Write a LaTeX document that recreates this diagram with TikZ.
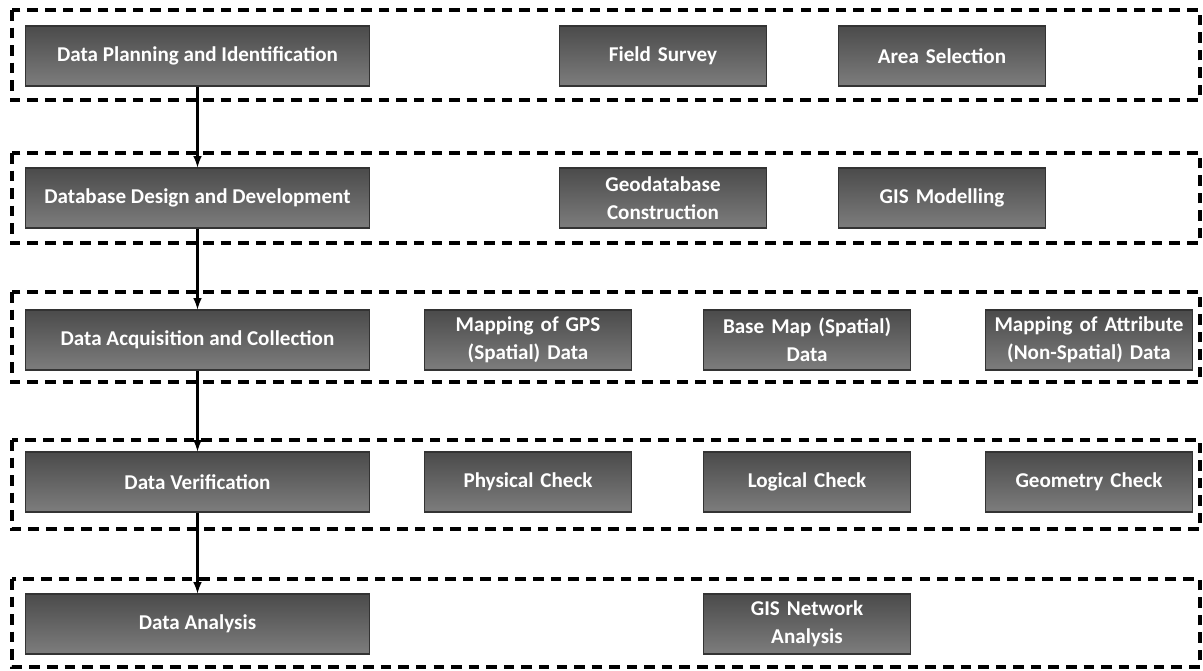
\documentclass[tikz,border=0pt]{standalone}
\usepackage{fontspec}
\setmainfont{Carlito}
\usetikzlibrary{arrows}
\definecolor{boxtop}{HTML}{4B4B4B}
\definecolor{boxbot}{HTML}{7D7D7D}
\begin{document}
\begin{tikzpicture}[x=0.02cm,y=-0.02cm,
  stage/.style={draw=black!80,line width=0.6pt,top color=boxtop,bottom color=boxbot,
    text=white,font=\bfseries\fontsize{12}{16}\selectfont,align=center,
    minimum height=1.2cm,inner sep=2pt},
  mainbox/.style={stage,minimum width=6.9cm},
  subbox/.style={stage,minimum width=4.12cm,text width=4cm},
  group/.style={line width=2pt,dash pattern=on 6pt off 4pt}]
\useasboundingbox (0,0) rectangle (1203,670);
% dashed frames
\draw[group] (12,10) rectangle (1200,100);
\draw[group] (12,153) rectangle (1200,243);
\draw[group] (12,292) rectangle (1200,382);
\draw[group] (12,440) rectangle (1200,529);
\draw[group] (12,579) rectangle (1200,667);
% main stages
\node[mainbox] (plan) at (197.5,56) {Data Planning and Identification};
\node[mainbox] (design) at (197.5,198) {Database Design and Development};
\node[mainbox] (acq) at (197.5,340) {Data Acquisition and Collection};
\node[mainbox] (verif) at (197.5,482) {Data Verification};
\node[mainbox] (anal) at (197.5,624) {Data Analysis};
% sub stages
\node[subbox] (field) at (663,56) {Field Survey};
\node[subbox] (area) at (942,56) {Area Selection};
\node[subbox] (geodb) at (663,198) {Geodatabase\\Construction};
\node[subbox] (gismod) at (942,198) {GIS Modelling};
\node[subbox] (gps) at (528,340) {Mapping of GPS\\(Spatial) Data};
\node[subbox] (base) at (807,340) {Base Map (Spatial)\\Data};
\node[subbox] (attr) at (1089,340) {Mapping of Attribute\\(Non-Spatial) Data};
\node[subbox] (phys) at (528,482) {Physical Check};
\node[subbox] (logic) at (807,482) {Logical Check};
\node[subbox] (geom) at (1089,482) {Geometry Check};
\node[subbox] (net) at (807,624) {GIS Network\\Analysis};
% flow
\draw[-latex,line width=1.2pt] (plan) -- (design);
\draw[-latex,line width=1.2pt] (design) -- (acq);
\draw[-latex,line width=1.2pt] (acq) -- (verif);
\draw[-latex,line width=1.2pt] (verif) -- (anal);
\end{tikzpicture}
\end{document}
